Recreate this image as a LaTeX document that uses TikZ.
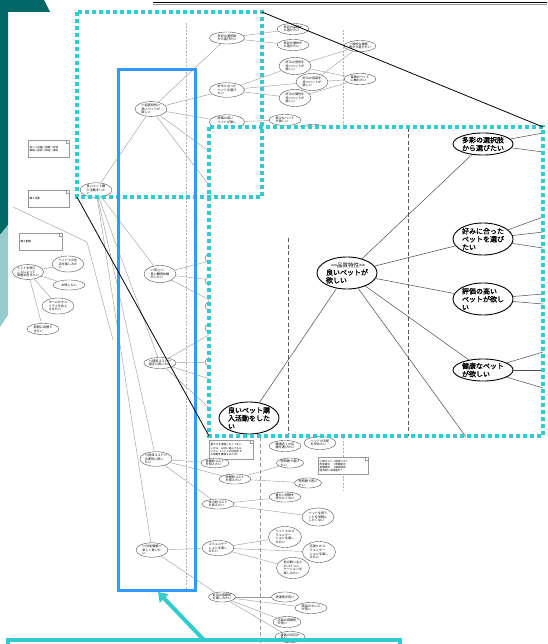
\documentclass[tikz,border=0pt]{standalone}
\usepackage{fontspec}
\newfontfamily\cjk{Noto Sans CJK JP}
\newfontfamily\cjkb[FakeBold=1.2]{Noto Sans CJK JP}
\usetikzlibrary{shapes.geometric,arrows.meta}
\definecolor{dteal}{RGB}{0,102,102}
\definecolor{lteal}{RGB}{150,204,204}
\definecolor{cyanb}{RGB}{51,204,204}
\definecolor{blueb}{RGB}{51,153,255}
\newcommand\dlt{<\kern0pt<}
\newcommand\dgt{>\kern0pt>}
\newcommand\dogear[1]{\draw[black!40, line width=0.3pt] ([xshift=-3pt]#1.north east) -- ([xshift=-3pt,yshift=-3pt]#1.north east) -- ([yshift=-3pt]#1.north east);}
\tikzset{
  sm/.style={ellipse, draw=black!75, line width=0.35pt, fill=white, inner sep=0.2pt, minimum width=32, minimum height=14, font=\cjk\fontsize{3.1}{3.6}\selectfont, align=left},
  ln/.style={draw=black!40, line width=0.4pt},
  big/.style={ellipse, draw=black, line width=0.9pt, fill=white, inner sep=0pt, minimum width=60, minimum height=24, font=\cjkb\fontsize{7}{8}\selectfont, align=left},
  bln/.style={draw=black!70, line width=0.5pt},
  notebox/.style={draw=black!40, line width=0.35pt, fill=white, anchor=north west, inner sep=0.8pt, font=\cjk\fontsize{2.6}{3.1}\selectfont, align=left},
  teald/.style={draw=cyanb, line width=3.5pt, dash pattern=on 4pt off 3pt},
  gdash/.style={draw=black!30, line width=0.4pt, dash pattern=on 2pt off 1.5pt},
  idash/.style={draw=black!65, line width=0.5pt, dash pattern=on 4pt off 2.5pt},
}
\begin{document}
\begin{tikzpicture}[x=1pt,y=-1pt]
\useasboundingbox (0,0) rectangle (547,644);
\fill[white] (0,0) rectangle (547,644);
% background teal shapes
\fill[dteal] (0,0) -- (44,0) -- (50,12) -- (8,12) -- (8,225) -- (0,235) -- cycle;
\fill[lteal] (0,235) -- (8,225) -- (8,315) -- (0,327) -- cycle;
% top double line
\draw[black, line width=0.8pt] (153,2) -- (547,2);
\draw[black!40, line width=0.5pt] (153,4) -- (547,4);

% gray dashed guides
\draw[gdash] (186,23) -- (186,590);
\draw[gdash] (343,30) -- (343,127);
\draw[gdash] (343,437) -- (343,490);
\draw[idash, draw=black!40] (260,437) -- (260,644);

% ---------- underlying diagram ----------
\node[sm] (R) at (96,190) {良いペット購\\入活動をした\\い};
\node[sm] (Q) at (151,109) {\dlt 品質特性\dgt\\良いペットが\\欲しい};
\node[sm, minimum height=17] (A) at (160,274) {\dlt 安心\dgt\\良い購買体験\\がしたい};
\node[sm, minimum height=11] (U) at (160,363) {\dlt 使用コスト\dgt\\適正に買いたい};
\node[sm] (K) at (156,459) {\dlt 経済コスト\dgt\\合理的に買い\\たい};
\node[sm] (F) at (152,550) {\dlt 付加価値\dgt\\楽しく買いた\\い};

\node[sm, minimum width=35, minimum height=12] (T1) at (227,38) {多彩の選択肢\\から選びたい};
\node[sm, minimum width=35] (T2) at (227,90) {好みに合った\\ペットを選び\\たい};
\node[sm, minimum width=35] (T3) at (227,122) {評価の高い\\ペットが欲し\\い};
\node[sm, minimum height=11] (T1a) at (293,29) {多彩の品種か\\ら選びたい};
\node[sm, minimum height=11] (T1b) at (293,45) {多彩の個体か\\ら選びたい};
\node[sm, minimum height=17] (T2a) at (295,66) {好みの習性を\\持つペットが\\欲しい};
\node[sm, minimum height=17] (T2b) at (312,82) {好みの容姿を\\持つペットが\\欲しい};
\node[sm, minimum height=17] (T2c) at (295,98) {好みの個性を\\持つペットが\\欲しい};
\node[sm, minimum height=11] (P1) at (360,46) {一般的な価格\\帯から選びたい};
\node[sm, minimum height=11] (P2) at (360,79) {実物のペット\\に触れたい};
\node[sm, minimum height=11] (T3a) at (285,120) {希少なペット\\が欲しい};
\node[sm, minimum height=11] (T3b) at (313,130) {血統の良い\\ペットが欲しい};

\node[sm] (H1) at (221,258) {};
\node[sm] (H2) at (221,281) {};
\node[sm] (H3) at (221,306) {};
\node[sm] (H4) at (221,328) {};
\node[sm] (H5) at (221,362) {};
\coordinate (qh1) at (232,168);
\coordinate (qh2) at (228,210);
\coordinate (uh1) at (232,386);
\coordinate (uh2) at (228,425);

\draw[ln] (R) -- (Q);
\draw[ln] (R) -- (A);
\draw[ln] (R) -- (U);
\draw[ln] (R) -- (K);
\draw[ln] (R) -- (F);
\draw[ln] (Q) -- (T1);
\draw[ln] (Q) -- (T2);
\draw[ln] (Q) -- (T3);
\draw[ln] (Q) -- (qh1);
\draw[ln] (Q) -- (qh2);
\draw[ln] (T1) -- (T1a);
\draw[ln] (T1) -- (T1b);
\draw[ln] (T2) -- (T2a);
\draw[ln] (T2) -- (T2b);
\draw[ln] (T2) -- (T2c);
\draw[ln] (T2a) -- (P1);
\draw[ln] (T2a) -- (P2);
\draw[ln] (T2b) -- (P1);
\draw[ln] (T2b) -- (P2);
\draw[ln] (T2c) -- (P2);
\draw[ln] (T3) -- (T3a);
\draw[ln] (A) -- (H1);
\draw[ln] (A) -- (H2);
\draw[ln] (A) -- (H3);
\draw[ln] (U) -- (H4);
\draw[ln] (U) -- (H5);
\draw[ln] (U) -- (uh1);
\draw[ln] (U) -- (uh2);

% left cluster
\node[notebox, minimum width=41, minimum height=17, text width=38] (N1) at (28,140) {良い→店舗→信頼→好感\\価格→品質→保証→満足};
\dogear{N1}
\node[notebox, minimum width=41, minimum height=17, text width=38] (N2) at (28,190) {購入活動\\ };
\dogear{N2}
\node[notebox, minimum width=43, minimum height=17, text width=40] (N3) at (19,233) {購入動機\\ };
\dogear{N3}
\coordinate (g1) at (13,207);
\coordinate (g2) at (87,242);
\coordinate (g3) at (113,340);
\draw[ln] (g1) -- (g2) -- (g3);

\node[sm, minimum width=31] (L0) at (28,272) {ペットを飼う\\ことによって\\問題を防ぎたい};
\node[sm, minimum height=16] (L1) at (68,264) {ペットとの生\\活を楽しみた\\い};
\node[sm, minimum height=10] (L2) at (69,285) {お得したい};
\node[sm, minimum height=16] (L3) at (58,306) {ホームセキュ\\リティを向上\\させたい};
\node[sm, minimum height=11] (L4) at (43,329) {周囲に自慢で\\きたい};
\draw[ln] (L0) -- (L1);
\draw[ln] (L0) -- (L2);
\draw[ln] (L0) -- (L3);
\draw[ln] (L0) -- (L4);

% lower part
\node[notebox, minimum width=44, minimum height=19, text width=41] (N4) at (209,440) {重たさを運搬しなくてもい\\いから、お店に運んでもら\\いたい（ペットの世話をす\\る時間を確保するため）};
\dogear{N4}
\node[notebox, minimum width=50, minimum height=17, text width=47] (N5) at (318,457) {心理コスト→経済コスト\\肉体疲労\quad →時間疲労\\金額負担\quad →機会損失\\経済的には問題か？};
\dogear{N5}
\node[sm, minimum height=11] (B1) at (285,446) {職場近くの店\\舗を選びたい};
\node[sm, minimum height=13] (B2) at (320,443) {ペットの手配\\を早めたい};
\node[sm, minimum width=28, minimum height=9] (M1) at (215,463) {金額的コスト\\を抑えたい};
\node[sm, minimum height=10] (M2) at (235,479) {時間的コスト\\を抑えたい};
\node[sm, minimum height=10] (M3) at (218,504) {体力的コスト\\を抑えたい};
\node[sm, minimum width=27, minimum height=10] (M21) at (290,463) {短時間で選び\\たい};
\node[sm, minimum width=27, minimum height=10] (M22) at (308,483) {短時間で買い\\たい};
\node[sm, minimum height=10] (M31) at (285,497) {重たい荷物を\\持ちたくない};
\node[sm, minimum height=18] (M32) at (318,517) {ペットを買う\\ことを気軽に\\したくない};
\node[sm, minimum height=15] (C1) at (218,548) {コミュニケー\\ションを楽し\\みたい};
\node[sm, minimum width=33, minimum height=21] (C11) at (285,537) {ペットとのコ\\ミュニケー\\ションを楽し\\みたい};
\node[sm, minimum width=33, minimum height=21] (C12) at (319,552) {店員とのコ\\ミュニケー\\ションを楽し\\みたい};
\node[sm, minimum width=33, minimum height=21] (C13) at (293,568) {他の飼い主と\\のコミュニ\\ケーションを\\楽しみたい};
\node[sm, minimum width=27, minimum height=10] (S1) at (222,597) {お店の雰囲気\\を楽しみたい};
\node[sm, minimum width=27, minimum height=10] (S11) at (285,597) {清潔感が良い};
\node[sm, minimum height=11] (S12) at (311,608) {商品のセンス\\が良い};
\node[sm, minimum width=28, minimum height=11] (S13) at (287,622) {店員の雰囲気\\が良い};
\node[sm, minimum width=30, minimum height=11] (S14) at (290,637) {接客の対応が\\良い};
\draw[ln] (K) -- (M1);
\draw[ln] (K) -- (M2);
\draw[ln] (K) -- (M3);
\draw[ln] (M2) -- (M21);
\draw[ln] (M2) -- (M22);
\draw[ln] (M3) -- (M31);
\draw[ln] (M3) -- (M32);
\draw[ln] (F) -- (C1);
\draw[ln] (F) -- (S1);
\draw[ln] (C1) -- (C11);
\draw[ln] (C1) -- (C12);
\draw[ln] (C1) -- (C13);
\draw[ln] (S1) -- (S11);
\draw[ln] (S1) -- (S12);
\draw[ln] (S1) -- (S13);
\draw[ln] (S1) -- (S14);

% ---------- magnified inset ----------
\fill[white] (209,127) rectangle (543,436);
\draw[idash] (408,128) -- (408,436);
\draw[idash] (288,238) -- (288,436);
\node[big, minimum height=32] (IQ) at (347,273) {\hspace{5pt}{\cjk\fontsize{5.5}{6}\selectfont\dlt 品質特性\dgt}\\良いペットが\\欲しい};
\node[big, minimum height=32] (IR) at (249,418) {良いペット購\\入活動をした\\い};
\node[big, minimum height=22] (I1) at (483,144) {多彩の選択肢\\から選びたい};
\node[big, minimum height=32] (I2) at (483,239) {好みに合った\\ペットを選び\\たい};
\node[big, minimum height=32] (I3) at (483,299) {評価の高い\\ペットが欲し\\い};
\node[big, minimum height=22] (I4) at (483,370) {健康なペット\\が欲しい};
\coordinate (ib) at (466,437);
\coordinate (e1) at (543,133);
\coordinate (e2) at (543,152);
\coordinate (e3) at (543,217);
\coordinate (e4) at (543,232);
\coordinate (e5) at (543,248);
\coordinate (e6) at (543,294);
\coordinate (e7) at (543,304);
\coordinate (e8) at (543,352);
\coordinate (e9) at (543,370);
\coordinate (e10) at (543,388);
\draw[bln] (IR) -- (IQ);
\draw[bln] (IQ) -- (I1);
\draw[bln] (IQ) -- (I2);
\draw[bln] (IQ) -- (I3);
\draw[bln] (IQ) -- (I4);
\draw[bln] (IQ) -- (ib);
\draw[bln] (I1) -- (e1);
\draw[bln] (I1) -- (e2);
\draw[bln] (I2) -- (e3);
\draw[bln] (I2) -- (e4);
\draw[bln] (I2) -- (e5);
\draw[bln] (I3) -- (e6);
\draw[bln] (I3) -- (e7);
\draw[bln] (I4) -- (e8);
\draw[bln] (I4) -- (e9);
\draw[bln] (I4) -- (e10);
\draw[teald] (209,127) rectangle (543,436);

% ---------- overlays ----------
\draw[teald] (77,12) rectangle (262,197);
\draw[blueb, line width=3pt] (118,70) rectangle (195,590);
\coordinate (z1) at (262,12);
\coordinate (z2) at (543,127);
\coordinate (z3) at (77,197);
\coordinate (z4) at (209,436);
\draw[black, line width=0.8pt] (z1) -- (z2);
\draw[black, line width=0.8pt] (z3) -- (z4);
\draw[cyanb, line width=4pt] (8,640) rectangle (400,660);
\coordinate (a1) at (204,640);
\coordinate (a2) at (158,592);
\draw[cyanb, line width=4pt, -{Triangle[length=9pt,width=12pt]}] (a1) -- (a2);
\end{tikzpicture}
\end{document}
